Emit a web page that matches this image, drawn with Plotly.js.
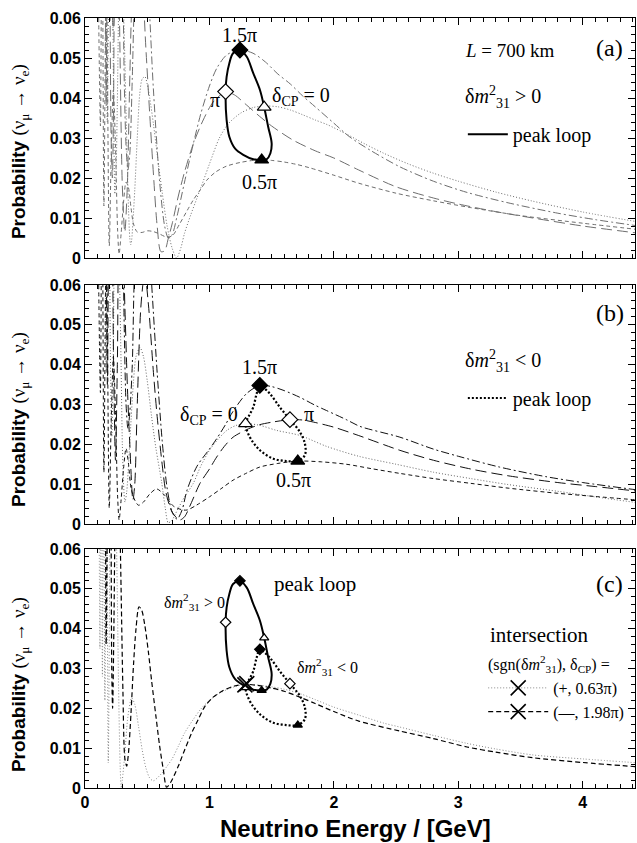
<!DOCTYPE html>
<html><head><meta charset="utf-8">
<script src="https://cdn.plot.ly/plotly-3.0.1.min.js"></script>
<style>html,body{margin:0;padding:0;background:#fff}</style>
</head><body><div id="chart" style="width:637px;height:843px"></div>
<script>
// ---------- Panel (a): dm31^2 > 0 ----------
const a0_E = [0.11,0.118,0.127,0.14,0.155,0.168,0.179,0.19,0.20,0.21,0.22,0.23,0.24,0.25,0.26,0.27,0.28,0.29,0.30,0.31,0.32,0.335,0.35,0.36,0.367,0.375,0.385,0.40,0.42,0.44,0.46,0.482,0.50,0.52,0.55,0.58,0.62,0.66,0.70,0.736,0.77,0.80,0.85,0.90,0.95,1.00,1.08,1.15,1.25,1.35,1.45,1.55,1.65,1.75,1.85,1.95,2.10,2.25,2.40,2.60,2.80,3.00,3.30,3.60,4.00,4.45];
const a0_P = [0.10,0.062,0.12,0.063,0.14,0.08,0.034,0.07,0.11,0.105,0.075,0.04,0.016,0.022,0.039,0.062,0.075,0.078,0.072,0.062,0.05,0.03,0.012,0.005,0.0033,0.0045,0.009,0.017,0.03,0.041,0.0448,0.0453,0.0435,0.040,0.0335,0.026,0.0165,0.008,0.0025,0.0,0.0025,0.0062,0.0108,0.015,0.0192,0.0235,0.030,0.0335,0.0362,0.0376,0.038,0.0378,0.037,0.0358,0.0345,0.0333,0.031,0.0285,0.0262,0.0235,0.0212,0.0192,0.0165,0.0142,0.0115,0.009];

const a05_E = [0.11,0.124,0.137,0.152,0.171,0.195,0.21,0.228,0.245,0.262,0.274,0.29,0.31,0.33,0.35,0.37,0.39,0.42,0.46,0.50,0.55,0.60,0.65,0.70,0.76,0.82,0.87,0.93,0.98,1.05,1.14,1.25,1.35,1.42,1.50,1.60,1.70,1.80,2.00,2.20,2.50,2.80,3.10,3.50,4.00,4.45];
const a05_P = [0.06,0.033,0.10,0.013,0.075,0.003,0.025,0.042,0.028,0.007,0.001,0.006,0.014,0.019,0.0175,0.0125,0.0085,0.0065,0.0064,0.0068,0.0066,0.006,0.0053,0.0055,0.0085,0.0118,0.0145,0.0172,0.0195,0.0215,0.023,0.0239,0.0244,0.0245,0.0244,0.024,0.0234,0.0226,0.0207,0.0187,0.0162,0.0143,0.0126,0.0106,0.0087,0.0071];

const a1_E = [0.11,0.125,0.139,0.15,0.16,0.17,0.185,0.20,0.21,0.22,0.23,0.24,0.26,0.28,0.30,0.32,0.34,0.36,0.38,0.42,0.46,0.49,0.52,0.55,0.58,0.61,0.64,0.67,0.70,0.75,0.80,0.87,0.95,1.03,1.13,1.20,1.30,1.40,1.50,1.67,1.85,2.00,2.20,2.50,2.80,3.00,3.30,3.60,4.00,4.45];
const a1_P = [0.16,0.1,0.065,0.11,0.09,0.038,0.12,0.068,0.03,0.02,0.04,0.078,0.09,0.054,0.018,0.0065,0.018,0.045,0.065,0.075,0.068,0.052,0.036,0.021,0.008,0.0016,0.0018,0.005,0.0085,0.0155,0.0215,0.0285,0.0345,0.039,0.0415,0.0408,0.0382,0.0355,0.033,0.0295,0.0268,0.025,0.022,0.0178,0.015,0.0135,0.0116,0.010,0.008,0.0062];

const a15_E = [0.11,0.14,0.17,0.20,0.21,0.225,0.24,0.26,0.28,0.30,0.315,0.33,0.345,0.36,0.38,0.40,0.45,0.50,0.55,0.60,0.64,0.67,0.70,0.74,0.80,0.87,0.93,1.00,1.06,1.14,1.245,1.35,1.45,1.55,1.65,1.75,1.85,2.00,2.13,2.30,2.53,2.80,3.07,3.40,3.80,4.10,4.45];
const a15_P = [0.2,0.15,0.1,0.18,0.11,0.057,0.063,0.125,0.13,0.085,0.045,0.028,0.022,0.026,0.045,0.067,0.09,0.072,0.042,0.019,0.008,0.005,0.0058,0.0105,0.019,0.0285,0.036,0.043,0.0475,0.0508,0.052,0.0512,0.049,0.046,0.0435,0.0405,0.0378,0.0337,0.0302,0.0268,0.0228,0.0192,0.0164,0.0138,0.0112,0.0096,0.008];

// ---------- Panel (b): dm31^2 < 0 ----------
const b0_E = [0.11,0.125,0.139,0.15,0.16,0.17,0.18,0.19,0.205,0.215,0.225,0.24,0.26,0.28,0.29,0.30,0.31,0.321,0.335,0.35,0.37,0.39,0.41,0.442,0.47,0.50,0.535,0.57,0.616,0.645,0.669,0.70,0.75,0.80,0.87,0.93,1.00,1.07,1.14,1.21,1.29,1.40,1.54,1.73,1.94,2.20,2.50,2.80,3.10,3.40,3.80,4.10,4.45];
const b0_P = [0.16,0.1,0.065,0.12,0.1,0.038,0.07,0.10,0.04,0.022,0.035,0.078,0.09,0.058,0.04,0.02,0.01,0.0055,0.008,0.015,0.026,0.036,0.042,0.0443,0.042,0.036,0.027,0.019,0.0105,0.004,0.0003,0.001,0.004,0.0068,0.0102,0.0145,0.0185,0.0213,0.0235,0.0247,0.0252,0.0248,0.0235,0.0222,0.0195,0.0170,0.0150,0.0130,0.0114,0.0099,0.0082,0.0068,0.0053];

const b05_E = [0.11,0.124,0.137,0.152,0.171,0.195,0.21,0.228,0.245,0.262,0.274,0.29,0.31,0.33,0.35,0.37,0.40,0.43,0.47,0.52,0.576,0.64,0.71,0.776,0.82,0.90,1.00,1.10,1.19,1.30,1.405,1.55,1.71,1.90,2.10,2.30,2.53,2.80,3.10,3.40,3.80,4.10,4.45];
const b05_P = [0.06,0.033,0.10,0.013,0.075,0.004,0.025,0.042,0.028,0.007,0.001,0.006,0.014,0.019,0.015,0.009,0.006,0.0047,0.0055,0.0075,0.0088,0.0072,0.0045,0.0036,0.0035,0.0048,0.0068,0.009,0.011,0.0128,0.0143,0.0152,0.0158,0.0156,0.015,0.0139,0.0127,0.0114,0.0102,0.009,0.0077,0.0069,0.006];

const b1_E = [0.11,0.125,0.14,0.155,0.17,0.18,0.19,0.21,0.23,0.245,0.26,0.28,0.30,0.32,0.34,0.36,0.385,0.40,0.42,0.45,0.48,0.51,0.55,0.58,0.62,0.65,0.70,0.76,0.80,0.85,0.924,1.00,1.058,1.12,1.19,1.30,1.40,1.51,1.647,1.75,1.834,2.00,2.20,2.53,2.80,3.10,3.40,3.80,4.10,4.45];
const b1_P = [0.1,0.12,0.065,0.14,0.07,0.035,0.07,0.1,0.04,0.016,0.04,0.078,0.075,0.055,0.035,0.02,0.006,0.01,0.03,0.055,0.063,0.055,0.038,0.027,0.015,0.008,0.003,0.001,0.0018,0.005,0.0102,0.0138,0.0168,0.0195,0.0218,0.0237,0.0249,0.0256,0.0262,0.0261,0.0256,0.0243,0.0222,0.0185,0.016,0.0138,0.0121,0.0104,0.0094,0.0082];

const b15_E = [0.11,0.14,0.17,0.20,0.21,0.23,0.25,0.28,0.30,0.315,0.33,0.345,0.36,0.38,0.40,0.45,0.50,0.54,0.58,0.62,0.66,0.70,0.74,0.78,0.82,0.90,1.00,1.06,1.13,1.19,1.30,1.405,1.50,1.60,1.727,1.85,1.94,2.10,2.21,2.53,2.80,3.00,3.33,3.70,4.00,4.45];
const b15_P = [0.2,0.15,0.1,0.18,0.11,0.06,0.12,0.13,0.085,0.05,0.03,0.024,0.028,0.04,0.065,0.085,0.078,0.058,0.038,0.021,0.009,0.003,0.0012,0.0035,0.0085,0.0145,0.0188,0.0215,0.025,0.0283,0.0328,0.0348,0.0345,0.0335,0.0318,0.0298,0.0285,0.0262,0.0245,0.0218,0.0188,0.017,0.0143,0.0119,0.0104,0.0085];

// ---------- Panel (c): intersection curves ----------
const cPlus_E = [0.11,0.12,0.13,0.14,0.15,0.16,0.172,0.187,0.20,0.215,0.235,0.254,0.27,0.283,0.292,0.30,0.32,0.345,0.375,0.40,0.43,0.46,0.49,0.52,0.549,0.58,0.62,0.66,0.70,0.75,0.80,0.87,0.93,1.00,1.07,1.14,1.22,1.30,1.40,1.50,1.60,1.727,1.85,2.00,2.20,2.40,2.53,2.80,3.07,3.30,3.60,4.00,4.45];
const cPlus_P = [0.1,0.035,0.1,0.028,0.09,0.022,0.09,0.0063,0.06,0.1,0.085,0.06,0.025,0.005,0.0,0.002,0.0085,0.018,0.0226,0.021,0.0155,0.0095,0.005,0.0025,0.0018,0.0025,0.0038,0.0055,0.0073,0.0105,0.0138,0.0172,0.0198,0.022,0.0236,0.0247,0.0256,0.026,0.0258,0.0254,0.0248,0.0237,0.0222,0.0203,0.0183,0.0163,0.0153,0.0132,0.0112,0.0098,0.0083,0.0073,0.0063];

const cMinus_E = [0.11,0.125,0.139,0.15,0.16,0.17,0.18,0.19,0.205,0.215,0.222,0.232,0.245,0.26,0.275,0.29,0.305,0.32,0.335,0.35,0.37,0.39,0.41,0.434,0.455,0.48,0.51,0.535,0.57,0.60,0.63,0.656,0.69,0.75,0.80,0.857,0.91,0.964,1.03,1.10,1.20,1.30,1.40,1.50,1.60,1.727,1.85,2.00,2.20,2.53,2.80,3.07,3.30,3.60,4.00,4.45];
const cMinus_P = [0.12,0.09,0.065,0.1,0.09,0.036,0.07,0.11,0.09,0.03,0.02,0.04,0.075,0.09,0.075,0.05,0.024,0.0075,0.0055,0.009,0.019,0.031,0.04,0.0455,0.0447,0.041,0.034,0.027,0.018,0.0105,0.0045,0.0002,0.0015,0.0055,0.0095,0.0138,0.0172,0.0205,0.0228,0.0243,0.0256,0.026,0.0257,0.0251,0.0243,0.0228,0.0212,0.0192,0.0168,0.0143,0.0124,0.0103,0.009,0.0076,0.0064,0.0053];

// ---------- Peak loops ----------
const nhLoop_E = [1.44,1.472,1.50,1.49,1.46,1.42,1.352,1.272,1.205,1.16,1.138,1.13,1.138,1.16,1.19,1.245,1.30,1.352,1.406,1.44];
const nhLoop_P = [0.0377,0.0328,0.0287,0.0262,0.0247,0.0245,0.0247,0.0258,0.0274,0.0303,0.0345,0.0416,0.0453,0.0487,0.0512,0.052,0.0503,0.0462,0.042,0.0377];
const ihLoop_E = [1.29,1.325,1.406,1.513,1.62,1.71,1.767,1.767,1.727,1.647,1.566,1.486,1.432,1.405,1.379,1.352,1.312,1.29];
const ihLoop_P = [0.0252,0.0218,0.0185,0.0164,0.0158,0.0158,0.0173,0.0202,0.0231,0.0262,0.0293,0.0327,0.0343,0.0348,0.0327,0.0293,0.0268,0.0252];

// markers at dCP = 0, 0.5pi, pi, 1.5pi
const nhMark_E = [1.44,1.42,1.13,1.245];
const nhMark_P = [0.0377,0.0245,0.0416,0.052];
const ihMark_E = [1.29,1.71,1.647,1.405];
const ihMark_P = [0.0252,0.0158,0.0262,0.0348];
const markSymbols = ['triangle-up','triangle-up','diamond','diamond'];
const markFills = ['#ffffff','#000000','#ffffff','#000000'];

// intersection points
const intPlus_E = [1.285], intPlus_P = [0.0259];
const intMinus_E = [1.30], intMinus_P = [0.0262];

const gray = '#6e6e6e';
const DOT = '1px,2px', SDASH = '4px,3px', LDASH = '11px,5px', DDOT = '8px,3px,2px,3px';

function curve(x, y, ax, color, dash, w) {
  return {x:x, y:y, xaxis:'x'+ax, yaxis:'y'+ax, mode:'lines', showlegend:false,
    line:{color:color, dash:dash, width:w||1, shape:'spline', smoothing:0.8}, hoverinfo:'skip'};
}
function marks(x, y, ax, size) {
  return {x:x, y:y, xaxis:'x'+ax, yaxis:'y'+ax, mode:'markers', showlegend:false,
    marker:{symbol:markSymbols, color:markFills, size:size, line:{color:'#000', width:1.2}}, hoverinfo:'skip'};
}

const traces = [
  // (a)
  curve(a0_E, a0_P, '2', gray, DOT),
  curve(a05_E, a05_P, '2', gray, SDASH),
  curve(a1_E, a1_P, '2', gray, LDASH),
  curve(a15_E, a15_P, '2', gray, DDOT),
  {x:nhLoop_E, y:nhLoop_P, xaxis:'x2', yaxis:'y2', mode:'lines', name:'peak loop', legend:'legend',
    line:{color:'#000', width:2, shape:'spline', smoothing:1}, hoverinfo:'skip'},
  marks(nhMark_E, nhMark_P, '2', 12),
  // (b)
  curve(b0_E, b0_P, '3', '#666', DOT),
  curve(b05_E, b05_P, '3', '#111', SDASH),
  curve(b1_E, b1_P, '3', '#111', LDASH),
  curve(b15_E, b15_P, '3', '#111', DDOT),
  {x:ihLoop_E, y:ihLoop_P, xaxis:'x3', yaxis:'y3', mode:'lines', name:'peak loop', legend:'legend2',
    line:{color:'#000', width:2.2, dash:'2px,2px', shape:'spline', smoothing:1}, hoverinfo:'skip'},
  marks(ihMark_E, ihMark_P, '3', 12),
  // (c)
  curve(cPlus_E, cPlus_P, '', '#888', DOT),
  curve(cMinus_E, cMinus_P, '', '#000', '5px,3px', 1.2),
  {x:nhLoop_E, y:nhLoop_P, xaxis:'x', yaxis:'y', mode:'lines', showlegend:false,
    line:{color:'#000', width:2, shape:'spline', smoothing:1}, hoverinfo:'skip'},
  {x:ihLoop_E, y:ihLoop_P, xaxis:'x', yaxis:'y', mode:'lines', showlegend:false,
    line:{color:'#000', width:2.2, dash:'2px,2px', shape:'spline', smoothing:1}, hoverinfo:'skip'},
  marks(nhMark_E, nhMark_P, '', 8),
  marks(ihMark_E, ihMark_P, '', 8),
  {x:intPlus_E, y:intPlus_P, xaxis:'x', yaxis:'y', mode:'lines+markers', name:'(+, 0.63π)', legend:'legend3',
    line:{color:'#888', dash:DOT, width:1}, marker:{symbol:'x-thin-open', size:15, color:'#000', line:{color:'#000', width:1.6}}, hoverinfo:'skip'},
  {x:intMinus_E, y:intMinus_P, xaxis:'x', yaxis:'y', mode:'lines+markers', name:'(—, 1.98π)', legend:'legend3',
    line:{color:'#000', dash:'5px,3px', width:1.2}, marker:{symbol:'x-thin-open', size:15, color:'#000', line:{color:'#000', width:1.6}}, hoverinfo:'skip'}
];

const sansB = {family:'Liberation Sans, Arial, sans-serif', size:16, weight:'bold', color:'#000'};
function xAxis(anchor, labels) {
  return {anchor:anchor, range:[0,4.42], showline:true, linecolor:'#000', linewidth:1, mirror:'allticks',
    ticks:'inside', ticklen:7, tickwidth:1, tickcolor:'#000', tick0:0, dtick:1,
    showgrid:false, zeroline:false, showticklabels:labels, tickfont:sansB,
    minor:{dtick:0.1, ticks:'inside', ticklen:4, tickwidth:1, tickcolor:'#000', showgrid:false}};
}
function yAxis(anchor, domain) {
  return {anchor:anchor, domain:domain, range:[0,0.06], showline:true, linecolor:'#000', linewidth:1, mirror:'allticks',
    ticks:'inside', ticklen:7, tickwidth:1, tickcolor:'#000', tick0:0, dtick:0.01,
    showgrid:false, zeroline:false, tickfont:sansB,
    minor:{dtick:0.002, ticks:'inside', ticklen:4, tickwidth:1, tickcolor:'#000', showgrid:false}};
}

const serif = 'Liberation Serif, Times New Roman, serif';
function ann(text, x, y, ax, size, xanchor) {
  return {text:text, x:x, y:y, xref:'x'+ax, yref:'y'+ax, showarrow:false,
    xanchor:xanchor||'center', yanchor:'middle', font:{family:serif, size:size, color:'#000'}};
}
const dm2 = 'δ<i>m</i><sup>2</sup><sub>31</sub>';
const ytitle = '<b>Probability</b> <span style="font-family:Liberation Serif">(ν<sub>μ</sub> → ν<sub>e</sub>)</span>';
function ytit(y) {
  return {text:ytitle, x:-0.118, y:y, xref:'paper', yref:'paper', showarrow:false, textangle:-90,
    xanchor:'center', yanchor:'middle', font:{family:'Liberation Sans Narrow, Liberation Sans, Arial', size:19, color:'#000'}};
}

const annotations = [
  // (a)
  ann('1.5π', 1.245, 0.0558, '2', 20),
  ann('π', 1.045, 0.0395, '2', 20),
  ann('δ<sub>CP</sub> = 0', 1.486, 0.0403, '2', 20, 'left'),
  ann('0.5π', 1.406, 0.0191, '2', 20),
  ann('<i>L</i> = 700 km', 3.04, 0.052, '2', 19, 'left'),
  ann('(a)', 4.217, 0.0525, '2', 24),
  ann(dm2 + ' > 0', 3.04, 0.0403, '2', 20, 'left'),
  // (b)
  ann('(b)', 4.217, 0.0531, '3', 24),
  ann(dm2 + ' < 0', 3.04, 0.041, '3', 20, 'left'),
  ann('1.5π', 1.406, 0.0393, '3', 20),
  ann('δ<sub>CP</sub> = 0', 1.245, 0.0273, '3', 20, 'right'),
  ann('π', 1.80, 0.0275, '3', 20),
  ann('0.5π', 1.673, 0.011, '3', 20),
  // (c)
  ann('(c)', 4.217, 0.0512, '', 24),
  ann('peak loop', 1.5, 0.0512, '', 21, 'left'),
  ann(dm2 + ' > 0', 0.616, 0.0466, '', 16, 'left'),
  ann(dm2 + ' < 0', 1.687, 0.0303, '', 16, 'left'),
  ann('intersection', 3.24, 0.0383, '', 21, 'left'),
  ann('(sgn(' + dm2 + '), δ<sub>CP</sub>) =', 3.226, 0.0312, '', 16, 'left'),
  // axis titles
  ytit(0.826), ytit(0.478), ytit(0.1338),
  {text:'<b>Neutrino Energy / [GeV]</b>', x:0.491, y:-0.052, xref:'paper', yref:'paper', showarrow:false,
    xanchor:'center', yanchor:'middle', font:{family:'Liberation Sans, Arial', size:24, color:'#000'}}
];

const legBase = {bgcolor:'rgba(0,0,0,0)', borderwidth:0, font:{family:serif, size:20, color:'#000'}, itemwidth:40, xanchor:'left'};
const layout = {
  width:637, height:843,
  margin:{l:85, r:2, t:18, b:55},
  paper_bgcolor:'#fff', plot_bgcolor:'#fff',
  font:{family:serif, color:'#000', size:16},
  showlegend:true,
  xaxis:xAxis('y', true),
  xaxis2:Object.assign(xAxis('y2', false), {matches:'x'}),
  xaxis3:Object.assign(xAxis('y3', false), {matches:'x'}),
  yaxis:yAxis('x', [0, 0.3104]),
  yaxis2:yAxis('x2', [0.6883, 1]),
  yaxis3:yAxis('x3', [0.3429, 0.6532]),
  legend:Object.assign({}, legBase, {x:0.687, y:0.849, yanchor:'middle'}),
  legend2:Object.assign({}, legBase, {x:0.687, y:0.5065, yanchor:'middle'}),
  legend3:Object.assign({}, legBase, {x:0.724, y:0.152, yanchor:'top', itemwidth:60, font:{family:serif, size:16, color:'#000'}}),
  annotations:annotations
};

Plotly.newPlot('chart', traces, layout, {displayModeBar:false, staticPlot:true});
</script></body></html>
